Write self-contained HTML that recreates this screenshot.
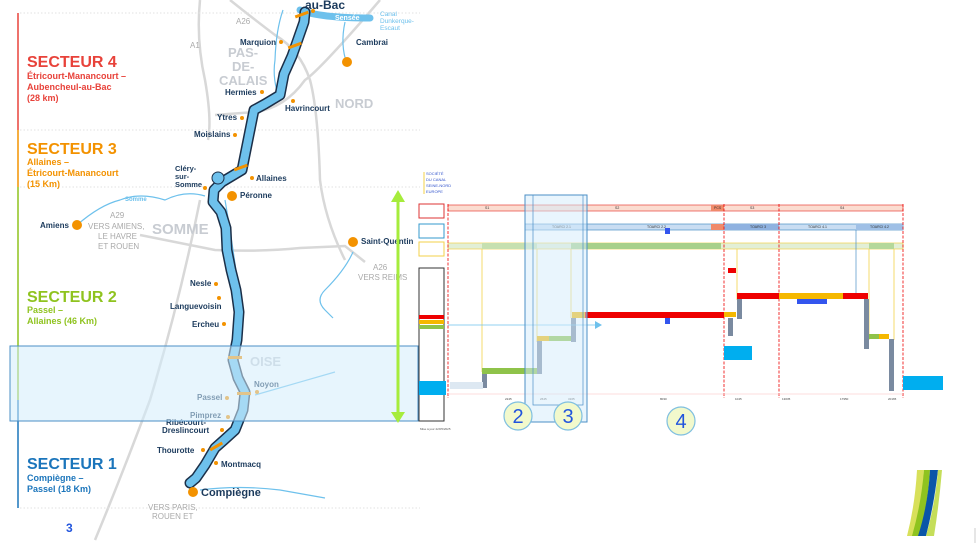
<!DOCTYPE html>
<html><head><meta charset="utf-8"><style>
html,body{margin:0;padding:0;background:#fff;width:978px;height:543px;overflow:hidden}
svg{display:block;font-family:"Liberation Sans",sans-serif}
.c{font-weight:bold;fill:#1b3a5c;font-size:8px}
</style></head><body>
<svg width="978" height="543" viewBox="0 0 978 543">
<g fill="none" stroke="#d8d8d8" stroke-width="2.5">
<path d="M200 0 Q196 40 205 80 Q212 120 208 140"/>
<path d="M230 0 Q255 20 275 35 Q300 50 310 80 Q318 110 320 180 Q325 220 345 260"/>
<path d="M215 115 L255 112 Q285 108 305 80 Q320 70 380 0"/>
<path d="M140 235 L215 250 Q260 252 300 248 L345 246 L365 262"/>
<path d="M200 200 Q180 300 150 400 Q120 480 95 540"/>
</g>
<g fill="none" stroke="#e2e2e2" stroke-width="1" stroke-dasharray="1.5 2">
<line x1="20" y1="13" x2="420" y2="13"/><line x1="20" y1="130" x2="420" y2="130"/>
<line x1="20" y1="187" x2="420" y2="187"/><line x1="20" y1="508" x2="420" y2="508"/>
</g>
<g fill="none" stroke="#6ec1ec" stroke-width="1.2">
<path d="M77 225 Q100 205 120 200 Q140 192 165 200 Q185 190 205 196"/>
<path d="M283 10 Q276 30 275 60 Q272 80 280 100"/>
<path d="M345 22 Q340 45 347 64"/>
<path d="M225 200 Q232 240 240 300"/>
<path d="M353 252 Q345 270 325 290 Q315 300 325 310 L333 318"/>
<path d="M255 395 Q290 385 335 372"/>
<path d="M200 490 Q240 485 280 490 L325 498"/>
</g>
<path d="M300 10 Q320 18 370 18" stroke="#6ec1ec" stroke-width="7" fill="none" stroke-linecap="round"/>
<text x="335" y="20" font-size="7" fill="#fff" font-weight="bold">Sensée</text>
<text x="380" y="16" font-size="6.5" fill="#6ec1ec">Canal</text>
<text x="380" y="23" font-size="6.5" fill="#6ec1ec">Dunkerque-</text>
<text x="380" y="30" font-size="6.5" fill="#6ec1ec">Escaut</text>
<text x="125" y="201" font-size="6" fill="#6ec1ec" font-weight="bold">Somme</text>
<path id="cn" d="M305 12 L304 22 L297 42 L292 56 L284 74 L280 95 L265 104 L254 110 L250 130 L246 150 L242 170 L222 182 L214 190 L213 202 L221 212 L226 228 L227 250 L231 270 L236 290 L239 312 L237 340 L233 360 L238 378 L245 392 L243 410 L235 430 L224 440 L215 448 L205 465 L196 478 L190 483" fill="none" stroke="#1b2f48" stroke-width="11" stroke-linejoin="round" stroke-linecap="round"/>
<path d="M305 12 L304 22 L297 42 L292 56 L284 74 L280 95 L265 104 L254 110 L250 130 L246 150 L242 170 L222 182 L214 190 L213 202 L221 212 L226 228 L227 250 L231 270 L236 290 L239 312 L237 340 L233 360 L238 378 L245 392 L243 410 L235 430 L224 440 L215 448 L205 465 L196 478 L190 483" fill="none" stroke="#6ec1ec" stroke-width="8" stroke-linejoin="round" stroke-linecap="round"/>
<circle cx="218" cy="178" r="6" fill="#6ec1ec" stroke="#1b2f48"/>
<g fill="#f39200"><rect x="295" y="13" width="14" height="3" transform="rotate(-20 302 15)"/><rect x="288" y="44" width="14" height="3" transform="rotate(-20 295 46)"/><rect x="234" y="166" width="14" height="3" transform="rotate(-20 241 168)"/><rect x="228" y="356" width="14" height="3"/><rect x="237" y="392" width="14" height="3"/><rect x="209" y="445" width="14" height="3" transform="rotate(-30 216 446)"/></g>
<text x="305" y="9" font-size="12" font-weight="bold" fill="#1b3a5c">au-Bac</text>
<g fill="#c8ccd2" font-weight="bold" font-size="13"><text x="228" y="57">PAS-</text><text x="232" y="71">DE-</text><text x="219" y="85">CALAIS</text><text x="335" y="108">NORD</text><text x="152" y="234" font-size="15">SOMME</text><text x="250" y="366" font-size="13">OISE</text></g>
<g class="c">
<text x="240" y="45">Marquion</text><text x="225" y="95">Hermies</text><text x="285" y="111">Havrincourt</text>
<text x="217" y="120">Ytres</text><text x="194" y="137">Moislains</text><text x="175" y="171" font-size="7.5">Cléry-</text><text x="175" y="179" font-size="7.5">sur-</text><text x="175" y="187" font-size="7.5">Somme</text>
<text x="256" y="181">Allaines</text><text x="240" y="198">Péronne</text><text x="356" y="45">Cambrai</text>
<text x="40" y="228">Amiens</text><text x="361" y="244">Saint-Quentin</text>
<text x="190" y="286">Nesle</text><text x="170" y="309">Languevoisin</text><text x="192" y="327">Ercheu</text>
<text x="254" y="387">Noyon</text><text x="197" y="400">Passel</text><text x="190" y="418">Pimprez</text>
<text x="166" y="425">Ribécourt-</text><text x="162" y="433">Dreslincourt</text><text x="157" y="453">Thourotte</text><text x="221" y="467">Montmacq</text>
<text x="201" y="496" font-size="11">Compiègne</text>
</g>
<g fill="#f39200"><circle cx="313" cy="11" r="2"/><circle cx="281" cy="42" r="2"/><circle cx="262" cy="92" r="2"/><circle cx="293" cy="101" r="2"/><circle cx="242" cy="118" r="2"/><circle cx="235" cy="135" r="2"/><circle cx="205" cy="188" r="2"/><circle cx="252" cy="178" r="2"/><circle cx="232" cy="196" r="5"/><circle cx="347" cy="62" r="5"/><circle cx="77" cy="225" r="5"/><circle cx="353" cy="242" r="5"/><circle cx="216" cy="284" r="2"/><circle cx="219" cy="298" r="2"/><circle cx="224" cy="324" r="2"/><circle cx="257" cy="392" r="2"/><circle cx="227" cy="398" r="2"/><circle cx="228" cy="417" r="2"/><circle cx="222" cy="430" r="2"/><circle cx="203" cy="450" r="2"/><circle cx="216" cy="463" r="2"/><circle cx="193" cy="492" r="5"/></g>
<g fill="#aaa" font-size="8"><text x="236" y="24">A26</text><text x="190" y="48">A1</text><text x="110" y="218">A29</text><text x="88" y="229">VERS AMIENS,</text><text x="98" y="239">LE HAVRE</text><text x="98" y="249">ET ROUEN</text><text x="373" y="270">A26</text><text x="358" y="280">VERS REIMS</text><text x="148" y="510">VERS PARIS,</text><text x="152" y="519">ROUEN ET</text></g>
<line x1="18" y1="13" x2="18" y2="130" stroke="#e8423a" stroke-width="1.5"/>
<line x1="18" y1="130" x2="18" y2="187" stroke="#f39200" stroke-width="1.5"/>
<line x1="18" y1="187" x2="18" y2="400" stroke="#8fc31f" stroke-width="1.5"/>
<line x1="18" y1="400" x2="18" y2="508" stroke="#1b75bb" stroke-width="1.5"/>
<g font-weight="bold">
<text x="27" y="67" font-size="16" fill="#e8423a">SECTEUR 4</text>
<text x="27" y="79" font-size="9" fill="#e8423a">Étricourt-Manancourt –</text><text x="27" y="90" font-size="9" fill="#e8423a">Aubencheul-au-Bac</text><text x="27" y="101" font-size="9" fill="#e8423a">(28 km)</text>
<text x="27" y="154" font-size="16" fill="#f39200">SECTEUR 3</text>
<text x="27" y="165" font-size="9" fill="#f39200">Allaines –</text><text x="27" y="176" font-size="9" fill="#f39200">Étricourt-Manancourt</text><text x="27" y="187" font-size="9" fill="#f39200">(15 Km)</text>
<text x="27" y="302" font-size="16" fill="#8fc31f">SECTEUR 2</text>
<text x="27" y="313" font-size="9" fill="#8fc31f">Passel –</text><text x="27" y="324" font-size="9" fill="#8fc31f">Allaines (46 Km)</text>
<text x="27" y="469" font-size="16" fill="#1b75bb">SECTEUR 1</text>
<text x="27" y="481" font-size="9" fill="#1b75bb">Compiègne –</text><text x="27" y="492" font-size="9" fill="#1b75bb">Passel (18 Km)</text>
<text x="66" y="532" font-size="12" fill="#2255dd">3</text>
</g>
<rect x="10" y="346" width="408" height="75" fill="#d4ecfb" fill-opacity="0.55" stroke="#4b8fc6" stroke-width="1"/>
<line x1="398" y1="198" x2="398" y2="416" stroke="#a6ec3c" stroke-width="3"/>
<polygon points="391,202 398,190 405,202" fill="#a6ec3c"/><polygon points="391,412 398,423 405,412" fill="#a6ec3c"/>
<line x1="424" y1="172" x2="424" y2="194" stroke="#f3d24a"/>
<g font-size="4" fill="#3355cc"><text x="426" y="175">SOCIÉTÉ</text><text x="426" y="181">DU CANAL</text><text x="426" y="187">SEINE-NORD</text><text x="426" y="193">EUROPE</text></g>
<rect x="419" y="204" width="25" height="14" fill="none" stroke="#d33"/><rect x="419" y="224" width="25" height="14" fill="none" stroke="#39c"/><rect x="419" y="242" width="25" height="14" fill="none" stroke="#f3d24a"/>
<rect x="419" y="268" width="25" height="153" fill="none" stroke="#333"/>
<rect x="419" y="315" width="25" height="4" fill="#e00"/><rect x="419" y="320" width="25" height="4" fill="#f5b800"/><rect x="419" y="325" width="25" height="4" fill="#8fc34a"/>
<rect x="419" y="381" width="27" height="14" fill="#00aeef"/>
<text x="420" y="430" font-size="3" fill="#555">Mise à jour 22/05/2025</text>
<rect x="448" y="205" width="455" height="6" fill="#fbdcd0" stroke="#e8423a" stroke-width="0.7"/>
<rect x="711" y="205" width="13" height="6" fill="#f08a6a"/>
<rect x="525" y="224" width="378" height="6" fill="#c9ddf2" stroke="#4b8fc6" stroke-width="0.7"/>
<rect x="711" y="224" width="13" height="6" fill="#f08a6a"/><rect x="724" y="224" width="55" height="6" fill="#8fb2e0"/><rect x="856" y="224" width="47" height="6" fill="#9fc0e6"/>
<rect x="448" y="243" width="455" height="6" fill="#e2efd6" stroke="#f3d24a" stroke-width="0.7"/>
<rect x="482" y="243" width="55" height="6" fill="#c6e0b0"/><rect x="571" y="243" width="150" height="6" fill="#a8d08a"/><rect x="869" y="243" width="25" height="6" fill="#b5d89a"/>
<g font-size="3.5" fill="#333"><text x="485" y="209">S1</text><text x="615" y="209">S2</text><text x="714" y="209">PCS</text><text x="750" y="209">S3</text><text x="840" y="209">S4</text>
<text x="552" y="228">TOARCI 2.1</text><text x="647" y="228">TOARCI 2.2</text><text x="750" y="228">TOARCI 3</text><text x="808" y="228">TOARCI 4.1</text><text x="870" y="228">TOARCI 4.2</text></g>
<g stroke="#e00" stroke-width="0.8" stroke-dasharray="3 1.5"><line x1="448" y1="204" x2="448" y2="398"/><line x1="724" y1="204" x2="724" y2="398"/><line x1="779" y1="204" x2="779" y2="398"/><line x1="903" y1="204" x2="903" y2="398"/></g>
<g stroke="#f3d24a" stroke-width="0.8"><line x1="482" y1="249" x2="482" y2="372"/><line x1="537" y1="249" x2="537" y2="342"/><line x1="571" y1="249" x2="571" y2="318"/><line x1="737" y1="249" x2="737" y2="300"/><line x1="869" y1="249" x2="869" y2="340"/><line x1="894" y1="249" x2="894" y2="340"/></g>
<line x1="856" y1="230" x2="856" y2="295" stroke="#4b8fc6" stroke-width="0.7"/>
<rect x="585" y="312" width="139" height="6" fill="#e00"/><rect x="572" y="312" width="13" height="6" fill="#f5b800"/><rect x="711" y="312" width="13" height="6" fill="#e00"/>
<rect x="737" y="293" width="42" height="6" fill="#e00"/><rect x="779" y="293" width="64" height="6" fill="#f5b800"/><rect x="843" y="293" width="25" height="6" fill="#e00"/>
<rect x="797" y="299" width="30" height="5" fill="#3355ee"/>
<rect x="728" y="268" width="8" height="5" fill="#e00"/>
<rect x="537" y="336" width="12" height="5" fill="#f5b800"/><rect x="549" y="336" width="23" height="5" fill="#8fc34a"/>
<rect x="482" y="368" width="56" height="6" fill="#8fc34a"/>
<rect x="869" y="334" width="10" height="5" fill="#8fc34a"/><rect x="879" y="334" width="10" height="5" fill="#f5b800"/>
<rect x="724" y="312" width="12" height="5" fill="#f5b800"/>
<g fill="#7a8aa0"><rect x="482" y="374" width="5" height="14"/><rect x="537" y="341" width="5" height="33"/><rect x="571" y="318" width="5" height="24"/><rect x="737" y="299" width="5" height="20"/><rect x="728" y="318" width="5" height="18"/><rect x="864" y="299" width="5" height="50"/><rect x="889" y="339" width="5" height="52"/></g>
<rect x="665" y="228" width="5" height="6" fill="#3355ee"/><rect x="665" y="318" width="5" height="6" fill="#3355ee"/>
<rect x="724" y="346" width="28" height="14" fill="#00aeef"/><rect x="903" y="376" width="40" height="14" fill="#00aeef"/>
<rect x="450" y="382" width="33" height="7" fill="#dde8f2"/>
<line x1="448" y1="325" x2="600" y2="325" stroke="#6ec1ec" stroke-width="0.8"/><polygon points="595,321 602,325 595,329" fill="#6ec1ec"/>
<line x1="448" y1="394" x2="903" y2="394" stroke="#fbd0d0" stroke-width="0.8"/>
<g font-size="3" fill="#444"><text x="505" y="400">2245</text><text x="540" y="400">2645</text><text x="568" y="400">3165</text><text x="660" y="400">8030</text><text x="735" y="400">1045</text><text x="782" y="400">13035</text><text x="840" y="400">17950</text><text x="888" y="400">20165</text></g>
<rect x="525" y="195" width="62" height="227" fill="#d4ecfb" fill-opacity="0.5" stroke="#4b8fc6" stroke-width="1"/>
<rect x="533" y="195" width="50" height="210" fill="none" stroke="#4b8fc6" stroke-width="0.7"/>
<g stroke="#7fbfe0" stroke-width="1.2" fill="#f2f9cc"><circle cx="518" cy="416" r="14"/><circle cx="568" cy="416" r="14"/><circle cx="681" cy="421" r="14"/></g>
<g fill="#2255dd" font-size="20" text-anchor="middle"><text x="518" y="423">2</text><text x="568" y="423">3</text><text x="681" y="428">4</text></g>
<path d="M917 470 L924 470 Q922 505 914 536 L907 536 Q915 505 917 470Z" fill="#d8e05a"/>
<path d="M924 470 L930 470 Q928 505 919 536 L912 536 Q921 505 924 470Z" fill="#8fc31f"/>
<path d="M930 470 L938 470 Q934 505 926 536 L918 536 Q928 505 930 470Z" fill="#0a55a8"/>
<path d="M938 470 L942 470 Q939 505 934 536 L926 536 Q935 505 938 470Z" fill="#c5de5a"/>
<line x1="975" y1="528" x2="975" y2="543" stroke="#ccc"/>
</svg>
</body></html>
